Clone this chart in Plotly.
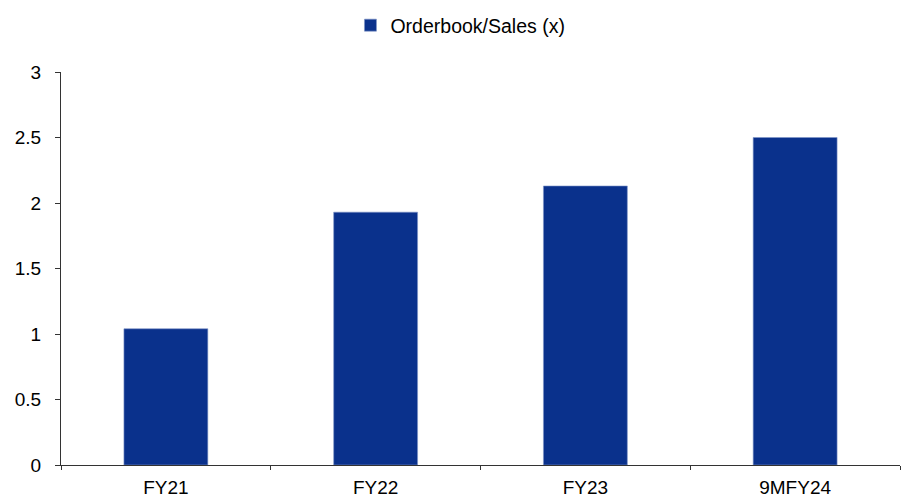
import plotly.graph_objects as go

categories = ["FY21", "FY22", "FY23", "9MFY24"]
orderbook_sales = [1.04, 1.93, 2.13, 2.50]
series_name = "Orderbook/Sales (x)"
y_ticks = [0, 0.5, 1, 1.5, 2, 2.5, 3]
y_tick_labels = ["0", "0.5", "1", "1.5", "2", "2.5", "3"]

fig = go.Figure()
fig.add_trace(go.Bar(
    x=categories,
    y=orderbook_sales,
    name=series_name,
    marker=dict(color="#0A318C", line=dict(color="#7F95C8", width=0.6)),
    showlegend=True,
))

font_family = "Liberation Sans, Arial, sans-serif"
fig.update_layout(
    width=911,
    height=497,
    margin=dict(l=61, r=11, t=72, b=32),
    paper_bgcolor="white",
    plot_bgcolor="white",
    font=dict(family=font_family, size=19, color="#000000"),
    bargap=0.6,
    showlegend=True,
    legend=dict(
        orientation="h",
        x=0.345, xanchor="left",
        y=0.988, yref="container", yanchor="top",
        font=dict(size=19.5, family=font_family, color="#000000"),
        bgcolor="rgba(0,0,0,0)",
    ),
    xaxis=dict(
        showline=True, linecolor="#333333", linewidth=1,
        ticks="outside", tickson="boundaries", ticklen=4, tickcolor="#333333",
        showgrid=False, zeroline=False, automargin=False,
        ticklabelstandoff=5,
        tickfont=dict(size=19),
    ),
    yaxis=dict(
        range=[0, 3],
        tickvals=y_ticks, ticktext=y_tick_labels,
        showline=True, linecolor="#333333", linewidth=1,
        ticks="outside", ticklen=5, tickcolor="#333333",
        showgrid=False, zeroline=False, automargin=False,
        ticklabelstandoff=10,
        tickfont=dict(size=19),
    ),
)

fig.write_html("out.html")
